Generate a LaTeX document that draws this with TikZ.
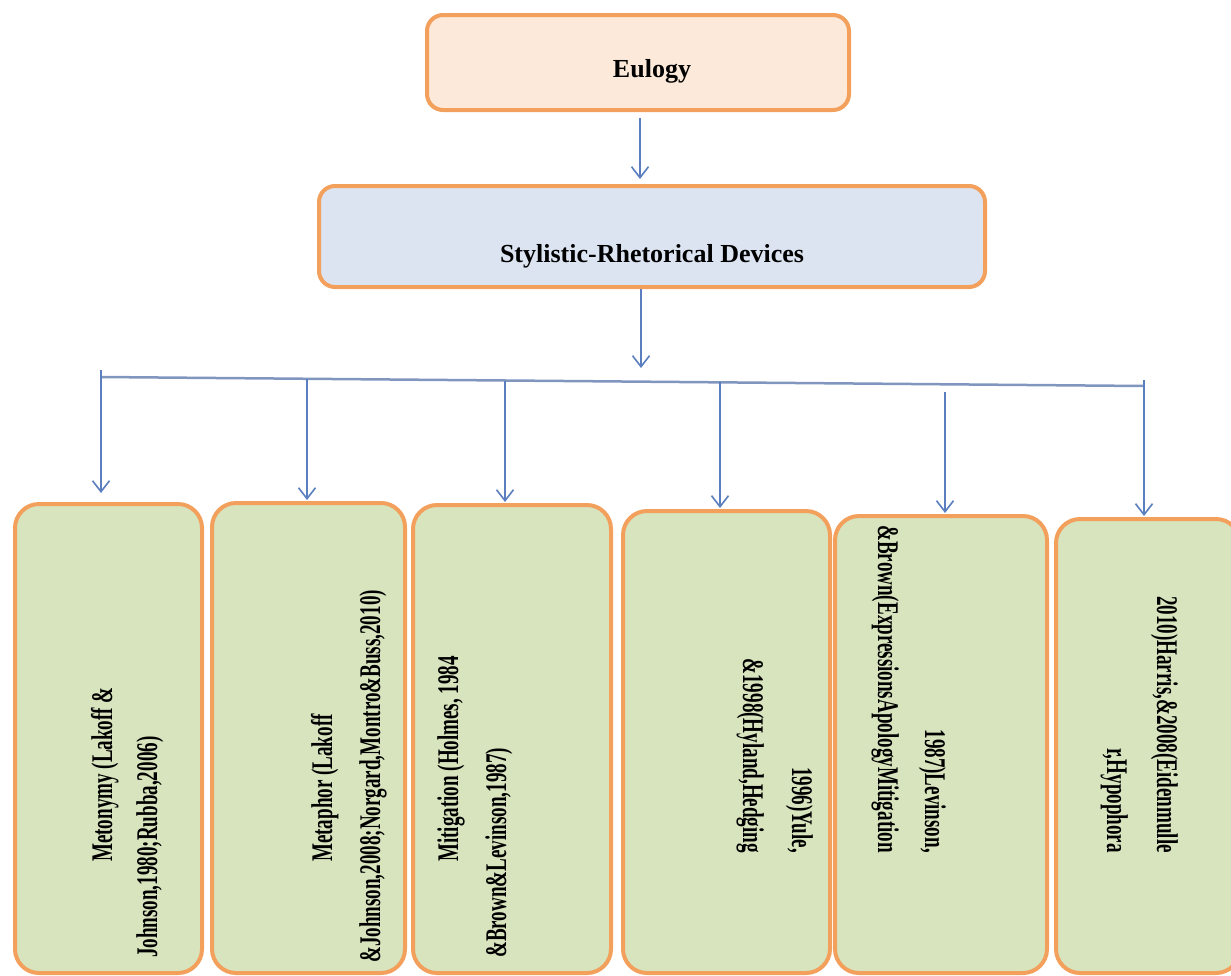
\documentclass[tikz,border=0pt]{standalone}
\usepackage{fontspec}
\setmainfont{Liberation Serif}
\newfontfamily\condfont[FakeStretch=0.635]{Liberation Serif}
\usetikzlibrary{arrows.meta,calc}
\definecolor{boxline}{RGB}{242,160,92}
\definecolor{peach}{RGB}{253,233,217}
\definecolor{paleblue}{RGB}{220,228,242}
\definecolor{palegreen}{RGB}{215,228,189}
\definecolor{arrowblue}{RGB}{90,126,190}
\definecolor{busgray}{RGB}{128,150,190}
\tikzset{
  topbox/.style={draw=boxline, line width=4pt, rounded corners=16pt, inner sep=0pt,
    font=\bfseries\fontsize{26}{30}\selectfont},
  leafbox/.style={draw=boxline, fill=palegreen, line width=4pt, rounded corners=24pt, inner sep=0pt},
  leaftext/.style={font=\condfont\bfseries\fontsize{30}{36}\selectfont, inner sep=0pt},
  upline/.style={leaftext, rotate=90, anchor=base west},
  downline/.style={leaftext, rotate=-90, anchor=base east},
  arr/.style={draw=arrowblue, line width=1.6pt, -{Straight Barb[length=11pt,width=17pt]}},
  bus/.style={draw=busgray, line width=2.5pt},
}
\begin{document}
\begin{tikzpicture}[x=1pt,y=-1pt]
\useasboundingbox (0,0) rectangle (1231,975);
\clip (0,0) rectangle (1231,975);

% top boxes
\node[topbox, fill=peach, minimum width=422pt, minimum height=95pt, text height=29pt, text depth=0pt]
  (eul) at (638,62.5) {\hspace*{28pt}Eulogy};
\node[topbox, fill=paleblue, minimum width=666pt, minimum height=101pt, text height=51pt, text depth=0pt]
  (sty) at (652,236.5) {Stylistic-Rhetorical Devices};

% leaf boxes
\node[leafbox, minimum width=187pt, minimum height=469pt] (b1) at (108.5,738.5) {};
\node[leafbox, minimum width=193pt, minimum height=470pt] (b2) at (308.5,738) {};
\node[leafbox, minimum width=198pt, minimum height=468pt] (b3) at (512,739) {};
\node[leafbox, minimum width=207pt, minimum height=462pt] (b4) at (726.5,742) {};
\node[leafbox, minimum width=212pt, minimum height=457pt] (b5) at (941,744.5) {};
\node[leafbox, minimum width=184pt, minimum height=454pt] (b6) at (1148,746) {};

% leaf texts
\node[upline] (t1a) at (112,862) {Metonymy (Lakoff \&};
\node[upline] (t1b) at (157,958) {Johnson,1980;Rubba,2006)};
\node[upline] (t2a) at (332,862) {Metaphor (Lakoff};
\node[upline] (t2b) at (380,963) {\&Johnson,2008;Norgard,Montro\&Buss,2010)};
\node[upline] (t3a) at (458,862) {Mitigation (Holmes, 1984};
\node[upline] (t3b) at (506,958) {\&Brown\&Levinson,1987)};
\node[downline] (t4a) at (792,853) {1996)Yule,};
\node[downline] (t4b) at (743,853) {\&1998(Hyland,Hedging};
\node[downline] (t5a) at (925,853) {1987)Levinson,};
\node[downline] (t5b) at (878,853) {\&Brown(ExpressionsApologyMitigation};
\node[downline] (t6a) at (1157,853) {2010)Harris,\&2008(Eidenmulle};
\node[downline] (t6b) at (1107,853) {r,Hypophora};

% connectors
\draw[arr, shorten <=6pt, shorten >=5pt] ([xshift=2pt]eul.south) -- ([xshift=2pt]eul.south |- sty.north);
\coordinate (hubtip) at (641,368);
\draw[arr] (hubtip |- sty.south) -- (hubtip);

\coordinate (busL) at (101,377);
\coordinate (busR) at (1144,386);
\draw[bus] (busL) -- (busR);

\coordinate (d1) at (101,370);
\coordinate (d2) at (307,379);
\coordinate (d3) at (505,380.5);
\coordinate (d4) at (720,382.3);
\coordinate (d5) at (945,392);
\coordinate (d6) at (1144,380);
\draw[arr, shorten >=9pt] (d1) -- (d1 |- b1.north);
\draw[arr, shorten >=1pt] (d2) -- (d2 |- b2.north);
\draw[arr, shorten >=1pt] (d3) -- (d3 |- b3.north);
\draw[arr, shorten >=1pt] (d4) -- (d4 |- b4.north);
\draw[arr, shorten >=1pt] (d5) -- (d5 |- b5.north);
\draw[arr, shorten >=1pt] (d6) -- (d6 |- b6.north);
\end{tikzpicture}
\end{document}
